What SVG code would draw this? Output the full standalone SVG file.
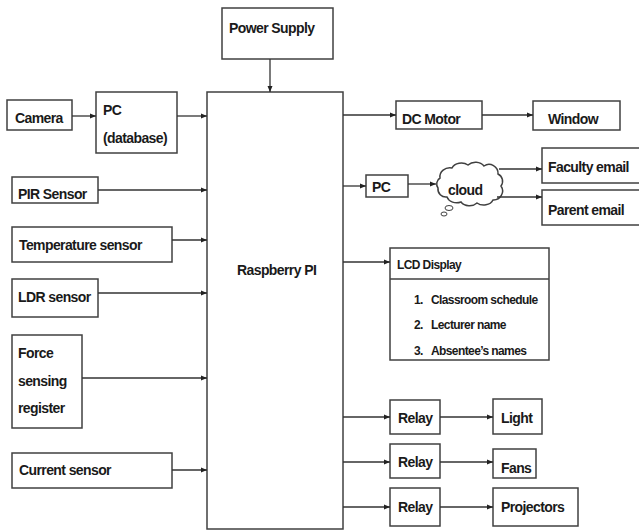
<svg xmlns="http://www.w3.org/2000/svg" width="639" height="531" viewBox="0 0 639 531">
<defs>
<marker id="ah" markerWidth="6" markerHeight="6" refX="6" refY="3" orient="auto" markerUnits="userSpaceOnUse">
<path d="M0,0.5 L6,3 L0,5.5 z" fill="#222"/>
</marker>
<style>
.b{fill:#fff;stroke:#404040;stroke-width:1.5}
.t{font-family:"Liberation Sans",Arial,sans-serif;font-weight:bold;font-size:14px;letter-spacing:-0.6px;fill:#1a1a1a}
.s{font-size:12px;letter-spacing:-0.6px}
.c{fill:none;stroke:#333;stroke-width:1.3;marker-end:url(#ah)}
</style>
</defs>
<rect width="639" height="531" fill="#fff"/>
<g id="power"><rect class="b" x="222" y="8" width="111" height="51"/><text class="t" x="229" y="33">Power Supply</text></g>
<g id="rpi"><rect class="b" x="207" y="92" width="136" height="437"/><text class="t" x="237" y="275">Raspberry PI</text></g>
<g id="camera"><rect class="b" x="7" y="100" width="65" height="30"/><text class="t" x="15" y="123">Camera</text></g>
<g id="pcdb"><rect class="b" x="96" y="92" width="81" height="61"/><text class="t" x="103" y="115">PC</text><text class="t" x="103" y="143">(database)</text></g>
<g id="pir"><rect class="b" x="12" y="177" width="86" height="26"/><text class="t" x="18" y="199">PIR Sensor</text></g>
<g id="temp"><rect class="b" x="12" y="227" width="160" height="35"/><text class="t" x="19" y="250">Temperature sensor</text></g>
<g id="ldr"><rect class="b" x="12" y="279" width="86" height="38"/><text class="t" x="18" y="302">LDR sensor</text></g>
<g id="force"><rect class="b" x="12" y="335" width="70" height="93"/><text class="t" x="18" y="358">Force</text><text class="t" x="18" y="386">sensing</text><text class="t" x="18" y="413">register</text></g>
<g id="current"><rect class="b" x="12" y="453" width="160" height="35"/><text class="t" x="19" y="475">Current sensor</text></g>
<g id="dcmotor"><rect class="b" x="396" y="101" width="86" height="28"/><text class="t" x="402" y="124">DC Motor</text></g>
<g id="window"><rect class="b" x="533" y="101" width="87" height="29"/><text class="t" x="548" y="124">Window</text></g>
<g id="pc"><rect class="b" x="366" y="175" width="42" height="22"/><text class="t" x="372" y="192">PC</text></g>
<g id="cloud"><path class="b" d="M440,178 a10,9 0 0 1 12,-10 a10,8 0 0 1 16,-3 a10,8 0 0 1 16,1 a9,9 0 0 1 14,8 a8,8 0 0 1 3,12 a9,9 0 0 1 -8,14 a10,8 0 0 1 -16,3 a10,8 0 0 1 -16,-1 a10,8 0 0 1 -14,-5 a8,8 0 0 1 -9,-9 a7,7 0 0 1 2,-10 z"/><ellipse class="b" cx="449" cy="208" rx="4" ry="2.5" style="stroke-width:1"/><ellipse class="b" cx="444" cy="214" rx="3" ry="2" style="stroke-width:1"/><text class="t" x="448" y="195">cloud</text></g>
<g id="faculty"><rect class="b" x="542" y="148" width="110" height="35"/><text class="t" x="548" y="172">Faculty email</text></g>
<g id="parent"><rect class="b" x="542" y="190" width="110" height="35"/><text class="t" x="548" y="215">Parent email</text></g>
<g id="lcd"><rect class="b" x="390" y="248" width="159" height="112"/><line x1="390" y1="279" x2="549" y2="279" stroke="#404040" stroke-width="1.5"/><text class="t s" x="397" y="269">LCD Display</text><text class="t s" x="414" y="304">1.</text><text class="t s" x="431" y="304">Classroom schedule</text><text class="t s" x="414" y="329">2.</text><text class="t s" x="431" y="329">Lecturer name</text><text class="t s" x="414" y="355">3.</text><text class="t s" x="431" y="355">Absentee’s names</text></g>
<g id="relay1"><rect class="b" x="390" y="400" width="50" height="34"/><text class="t" x="398" y="423">Relay</text></g>
<g id="light"><rect class="b" x="493" y="399" width="49" height="35"/><text class="t" x="501" y="423">Light</text></g>
<g id="relay2"><rect class="b" x="390" y="444" width="50" height="34"/><text class="t" x="398" y="467">Relay</text></g>
<g id="fans"><rect class="b" x="493" y="449" width="43" height="29"/><text class="t" x="501" y="473">Fans</text></g>
<g id="relay3"><rect class="b" x="390" y="488" width="50" height="38"/><text class="t" x="398" y="512">Relay</text></g>
<g id="projectors"><rect class="b" x="493" y="488" width="85" height="38"/><text class="t" x="501" y="512">Projectors</text></g>
<g id="connectors">
<line class="c" x1="270" y1="59" x2="270" y2="92"/>
<line class="c" x1="72" y1="116" x2="96" y2="116"/>
<line class="c" x1="177" y1="116" x2="207" y2="116"/>
<line class="c" x1="98" y1="190" x2="207" y2="190"/>
<line class="c" x1="172" y1="240" x2="207" y2="240"/>
<line class="c" x1="98" y1="293" x2="207" y2="293"/>
<line class="c" x1="82" y1="378" x2="207" y2="378"/>
<line class="c" x1="172" y1="470" x2="207" y2="470"/>
<line class="c" x1="343" y1="115" x2="396" y2="115"/>
<line class="c" x1="482" y1="115" x2="533" y2="115"/>
<line class="c" x1="343" y1="186" x2="366" y2="186"/>
<line class="c" x1="408" y1="184" x2="436" y2="184"/>
<line class="c" x1="499" y1="169" x2="542" y2="169"/>
<line class="c" x1="497" y1="197" x2="542" y2="197"/>
<line class="c" x1="343" y1="262" x2="390" y2="262"/>
<line class="c" x1="343" y1="417" x2="390" y2="417"/>
<line class="c" x1="440" y1="417" x2="493" y2="417"/>
<line class="c" x1="343" y1="462" x2="390" y2="462"/>
<line class="c" x1="440" y1="462" x2="493" y2="462"/>
<line class="c" x1="343" y1="507" x2="390" y2="507"/>
<line class="c" x1="440" y1="507" x2="493" y2="507"/>
</g>
</svg>
